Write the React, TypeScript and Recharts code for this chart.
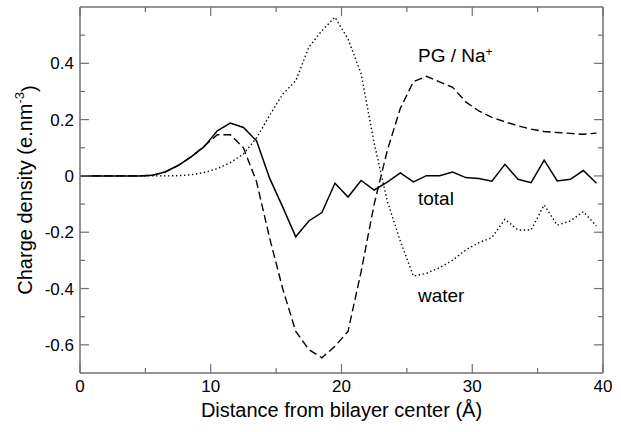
import React from "react";
import {
  LineChart,
  Line,
  XAxis,
  YAxis,
  ReferenceLine,
  ReferenceDot,
} from "recharts";

// distance from bilayer center (Å); profiles sampled every 1 Å, plus the origin
const distance = [
  0, 0.5, 1.5, 2.5, 3.5, 4.5, 5.5, 6.5, 7.5, 8.5, 9.5, 10.5, 11.5, 12.5, 13.5,
  14.5, 15.5, 16.5, 17.5, 18.5, 19.5, 20.5, 21.5, 22.5, 23.5, 24.5, 25.5, 26.5,
  27.5, 28.5, 29.5, 30.5, 31.5, 32.5, 33.5, 34.5, 35.5, 36.5, 37.5, 38.5, 39.5,
];

const total = [
  0, 0, 0, 0, 0, 0, 0.002, 0.014, 0.037, 0.068, 0.104, 0.16, 0.188, 0.172,
  0.125, -0.008, -0.11, -0.216, -0.16, -0.13, -0.026, -0.075, -0.016, -0.05,
  -0.022, 0.011, -0.021, 0.001, 0.001, 0.014, -0.006, -0.009, -0.019, 0.041,
  -0.012, -0.024, 0.056, -0.018, -0.012, 0.019, -0.026,
];

const pgNa = [
  0, 0, 0, 0, 0, 0, 0.002, 0.014, 0.037, 0.068, 0.106, 0.146, 0.146, 0.1,
  -0.02, -0.22, -0.4, -0.552, -0.617, -0.646, -0.605, -0.552, -0.34, -0.1,
  0.09, 0.24, 0.335, 0.354, 0.334, 0.315, 0.263, 0.231, 0.208, 0.192, 0.178,
  0.166, 0.158, 0.154, 0.151, 0.148, 0.152,
];

const water = [
  0, 0, 0, 0, 0, 0, 0, 0, 0.001, 0.004, 0.012, 0.026, 0.047, 0.078, 0.135,
  0.215, 0.29, 0.338, 0.457, 0.516, 0.564, 0.486, 0.363, 0.116, -0.089,
  -0.232, -0.356, -0.346, -0.326, -0.299, -0.263, -0.237, -0.219, -0.154,
  -0.192, -0.192, -0.103, -0.175, -0.16, -0.127, -0.178,
];

const xTicks = [0, 5, 10, 15, 20, 25, 30, 35, 40];
const yTicks = [-0.6, -0.5, -0.4, -0.3, -0.2, -0.1, 0, 0.1, 0.2, 0.3, 0.4, 0.5];

const chartData = distance.map((d, i) => ({
  d,
  total: total[i],
  pg: pgNa[i],
  water: water[i],
}));

const FONT = '"Liberation Sans", Arial, Helvetica, sans-serif';
const AXIS = "#707070";
// plot frame in svg pixels (chart sits at page 0,0)
const BOX = { left: 80, right: 603, top: 7, bottom: 373 };

export default function App() {
  return (
    <div style={{ position: "absolute", left: 0, top: 0, background: "#fff" }}>
      <LineChart
        width={621}
        height={432}
        data={chartData}
        margin={{ top: 7, right: 18, bottom: 0, left: 20 }}
      >
        <XAxis
          dataKey="d"
          type="number"
          domain={[0, 40]}
          ticks={xTicks}
          interval={0}
          height={59}
          tickSize={0}
          tickMargin={7}
          tickLine={false}
          axisLine={{ stroke: AXIS, strokeWidth: 1.5 }}
          tick={<XTick />}
          label={<XTitle />}
        />
        <YAxis
          type="number"
          domain={[-0.7, 0.6]}
          allowDataOverflow
          ticks={yTicks}
          interval={0}
          width={60}
          tickSize={0}
          tickMargin={6}
          tickLine={false}
          axisLine={{ stroke: AXIS, strokeWidth: 1.5 }}
          tick={<YTick />}
          label={<YTitle />}
        />
        <ReferenceLine y={0.6} stroke={AXIS} strokeWidth={1.5} />
        <ReferenceLine x={40} stroke={AXIS} strokeWidth={1.5} />

        <Line
          dataKey="water"
          type="linear"
          stroke="#000"
          strokeWidth={1.4}
          strokeDasharray="1.4 2.6"
          dot={false}
          activeDot={false}
          isAnimationActive={false}
        />
        <Line
          dataKey="pg"
          type="linear"
          stroke="#000"
          strokeWidth={1.4}
          strokeDasharray="8 4"
          dot={false}
          activeDot={false}
          isAnimationActive={false}
        />
        <Line
          dataKey="total"
          type="linear"
          stroke="#000"
          strokeWidth={1.5}
          dot={false}
          activeDot={false}
          isAnimationActive={false}
        />

        <ReferenceDot x={25.85} y={0.403} r={0} fill="none" stroke="none"
          label={<Note text="PG / Na" sup="+" />} />
        <ReferenceDot x={25.85} y={-0.102} r={0} fill="none" stroke="none"
          label={<Note text="total" />} />
        <ReferenceDot x={25.85} y={-0.447} r={0} fill="none" stroke="none"
          label={<Note text="water" />} />
      </LineChart>
    </div>
  );
}

/* ------------------------------------------------------------------ */

function XTick(props: any) {
  const { x, y, payload } = props;
  const v = payload.value;
  const major = v % 10 === 0;
  const len = major ? 9 : 5;
  return (
    <g>
      <line x1={x} x2={x} y1={BOX.bottom} y2={BOX.bottom - len} stroke={AXIS} strokeWidth={1.2} />
      <line x1={x} x2={x} y1={BOX.top} y2={BOX.top + len} stroke={AXIS} strokeWidth={1.2} />
      {major && (
        <text x={x} y={y} dy="0.71em" textAnchor="middle" fontFamily={FONT} fontSize={17} fill="#000">
          {v}
        </text>
      )}
    </g>
  );
}

function YTick(props: any) {
  const { x, y, payload } = props;
  const v = payload.value;
  const major = Math.round(v * 10) % 2 === 0;
  const len = major ? 9 : 5;
  return (
    <g>
      <line x1={BOX.left} x2={BOX.left + len} y1={y} y2={y} stroke={AXIS} strokeWidth={1.2} />
      <line x1={BOX.right} x2={BOX.right - len} y1={y} y2={y} stroke={AXIS} strokeWidth={1.2} />
      {major && (
        <text x={x} y={y} dy="0.355em" textAnchor="end" fontFamily={FONT} fontSize={17} fill="#000">
          {v === 0 ? "0" : v.toFixed(1)}
        </text>
      )}
    </g>
  );
}

function XTitle(props: any) {
  const vb = props.viewBox || { x: BOX.left, y: BOX.bottom, width: BOX.right - BOX.left };
  return (
    <text x={vb.x + vb.width / 2} y={vb.y + 44} textAnchor="middle" fontFamily={FONT} fontSize={20} fill="#000">
      Distance from bilayer center (Å)
    </text>
  );
}

function YTitle(props: any) {
  const vb = props.viewBox || { x: 20, y: BOX.top, height: BOX.bottom - BOX.top };
  const cx = vb.x + 12;
  const cy = vb.y + vb.height / 2;
  return (
    <text
      x={cx}
      y={cy}
      transform={`rotate(-90, ${cx}, ${cy})`}
      textAnchor="middle"
      fontFamily={FONT}
      fontSize={20}
      fill="#000"
    >
      Charge density (e.nm
      <tspan dy="-0.6em" fontSize={13}>-3</tspan>
      <tspan dy="0.6em">)</tspan>
    </text>
  );
}

function Note(props: any) {
  const { viewBox, text, sup } = props;
  if (!viewBox) return null;
  return (
    <text x={viewBox.x} y={viewBox.y} fontFamily={FONT} fontSize={19} fill="#000">
      {text}
      {sup && <tspan dy="-0.55em" fontSize={12}>{sup}</tspan>}
    </text>
  );
}
